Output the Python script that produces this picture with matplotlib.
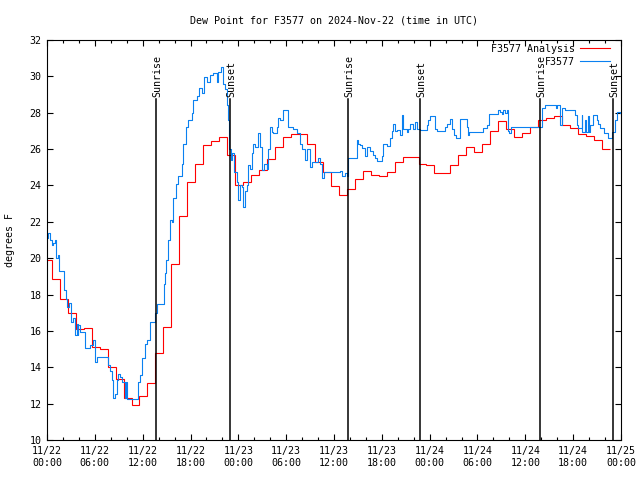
import numpy as np
import matplotlib
matplotlib.use("Agg")
import matplotlib.pyplot as plt
from matplotlib.ticker import MultipleLocator

# hourly analysis values (steps start at -0.4 h, one hour each)
analysis_start = -0.4
analysis_vals = [
    19.9, 18.85, 17.75, 17.0, 16.1, 16.15, 15.1, 15.0, 14.0, 13.35,
    12.3, 11.95, 12.4, 13.15, 14.8, 16.2, 19.7, 22.3, 24.2, 25.2,
    26.2, 26.45, 26.65, 25.7, 24.0, 24.2, 24.55, 24.85, 25.45, 26.13,
    26.65, 26.83, 26.83, 26.3, 25.3, 24.75, 23.97, 23.47, 23.8, 24.35,
    24.8, 24.6, 24.5, 24.75, 25.27, 25.55, 25.55, 25.2, 25.1, 24.7,
    24.7, 25.15, 25.65, 26.1, 25.85, 26.27, 27.0, 27.55, 27.1, 26.65,
    26.9, 27.2, 27.6, 27.7, 27.8, 27.35, 27.17, 26.83, 26.7, 26.5,
    26.0,
]

# station observations (hours since 11/22 00:00 UTC)
obs_hours = [
    0.00, 0.16, 0.38, 0.59, 0.79, 1.00, 1.13, 1.34, 1.54, 2.13,
    2.35, 2.55, 2.76, 2.97, 3.30, 3.51, 3.73, 3.83, 3.93, 4.14,
    4.77, 5.39, 5.81, 6.02, 6.23, 7.69, 7.90, 8.12, 8.32, 8.53,
    8.74, 8.94, 9.16, 9.45, 9.78, 9.88, 10.00, 11.45, 11.67, 11.95,
    12.29, 12.51, 12.92, 13.55, 13.76, 14.68, 14.80, 14.93, 15.22, 15.43,
    15.68, 15.84, 16.18, 16.47, 16.90, 17.10, 17.44, 17.72, 18.15, 18.35,
    18.78, 19.10, 19.41, 19.69, 20.03, 20.45, 20.86, 21.29, 21.49, 21.79,
    22.04, 22.33, 22.62, 22.70, 22.83, 23.08, 23.24, 23.50, 23.80, 24.00,
    24.21, 24.42, 24.62, 24.84, 25.05, 25.25, 25.46, 25.68, 25.88, 26.09,
    26.51, 26.72, 26.93, 27.26, 27.56, 27.76, 27.97, 28.18, 28.39, 28.81,
    29.01, 29.23, 29.64, 30.27, 30.90, 31.32, 31.74, 32.02, 32.36, 32.58,
    32.99, 33.28, 34.03, 34.25, 34.50, 34.75, 36.75, 36.97, 37.38, 37.59,
    37.80, 38.93, 39.05, 39.26, 39.48, 39.89, 40.10, 40.52, 40.93, 41.14,
    41.36, 41.98, 42.19, 42.61, 43.03, 43.24, 43.44, 43.65, 43.87, 44.28,
    44.49, 44.69, 45.12, 45.32, 45.54, 45.95, 46.16, 46.38, 46.79, 47.63,
    47.83, 48.04, 48.67, 48.88, 49.93, 50.14, 50.55, 50.77, 51.05, 51.31,
    51.81, 52.65, 52.81, 52.97, 54.73, 55.23, 55.48, 56.61, 56.82, 57.04,
    57.24, 57.45, 57.67, 57.79, 57.99, 58.17, 62.06, 62.47, 63.85, 64.01,
    64.35, 64.56, 64.98, 66.23, 66.45, 66.65, 67.07, 67.17, 67.49, 67.61,
    67.86, 67.99, 68.11, 68.53, 68.95, 69.16, 69.37, 69.87, 70.41, 70.84,
    71.25, 71.54, 71.88,
]
obs_vals = [
    21.1, 21.37, 21.0, 20.7, 20.85, 21.0, 20.0, 20.2, 19.27, 18.25,
    17.75, 17.3, 17.55, 16.47, 16.7, 15.77, 16.4, 15.8, 16.33, 15.96,
    15.05, 15.25, 15.5, 14.27, 14.55, 14.13, 13.8, 13.3, 12.3, 12.55,
    13.3, 13.65, 13.48, 13.2, 12.3, 13.2, 12.25, 13.2, 13.6, 14.5,
    15.3, 15.5, 16.5, 16.97, 17.5, 18.6, 19.2, 19.9, 21.0, 22.1,
    22.0, 23.3, 24.1, 24.5, 25.2, 26.3, 27.23, 27.6, 27.97, 28.7,
    28.9, 29.35, 29.1, 29.98, 29.7, 30.08, 30.17, 29.7, 30.26, 30.53,
    29.6, 29.3, 28.4, 27.6, 26.0, 25.4, 25.8, 24.76, 24.2, 23.2,
    24.0, 23.9, 22.8, 23.7, 24.0, 25.1, 24.9, 25.77, 26.3, 26.1,
    26.87, 26.1, 24.85, 25.2, 24.9, 26.0, 27.23, 26.95, 26.87, 27.23,
    27.7, 27.6, 28.15, 27.23, 27.1, 26.87, 26.3, 26.0, 25.4, 26.0,
    25.04, 25.3, 25.5, 25.2, 24.4, 24.75, 24.8, 24.5, 24.7, 24.5,
    25.5, 26.5, 26.3, 26.2, 26.04, 25.64, 26.1, 25.9, 25.7, 25.5,
    25.35, 25.6, 26.27, 26.15, 26.6, 27.0, 27.36, 27.0, 27.05, 26.8,
    27.87, 27.1, 26.95, 27.1, 27.4, 27.1, 27.5, 27.1, 27.07, 27.3,
    27.6, 27.84, 27.1, 27.0, 27.2, 27.4, 27.65, 27.1, 26.8, 26.63,
    27.65, 27.2, 26.8, 26.92, 27.14, 27.33, 27.93, 28.15, 28.05, 27.93,
    28.15, 27.98, 28.15, 27.0, 26.9, 27.2, 28.24, 28.42, 28.24, 28.42,
    27.33, 28.24, 28.17, 27.9, 27.33, 27.14, 27.9, 26.96, 27.6, 26.96,
    27.8, 26.96, 27.33, 27.87, 27.6, 27.4, 27.14, 26.87, 26.6, 26.92,
    27.6, 28.06, 28.0,
]

sun_hours = [13.67, 22.96, 37.76, 46.79, 61.84, 71.0]
sun_labels = ["Sunrise", "Sunset", "Sunrise", "Sunset", "Sunrise", "Sunset"]

tick_hours = list(range(0, 73, 6))
tick_labels = [
    "11/22\n00:00", "11/22\n06:00", "11/22\n12:00", "11/22\n18:00",
    "11/23\n00:00", "11/23\n06:00", "11/23\n12:00", "11/23\n18:00",
    "11/24\n00:00", "11/24\n06:00", "11/24\n12:00", "11/24\n18:00",
    "11/25\n00:00",
]

FS = 7.2
plt.rcParams['font.family'] = ['DejaVu Sans Mono']
plt.rcParams['font.size'] = FS

fig = plt.figure(figsize=(6.4, 4.8), dpi=100)
ax = fig.add_axes([47 / 640, 40 / 480, 574 / 640, 400 / 480])

edges = analysis_start + np.arange(len(analysis_vals) + 1)
ax.stairs(analysis_vals, edges, baseline=None, color='#ff0000', lw=0.8,
          label='F3577 Analysis')
ax.step(obs_hours, obs_vals, where='post', color='#0a80f0', lw=0.8,
        label='F3577')

for h, name in zip(sun_hours, sun_labels):
    ax.plot([h, h], [10, 28.75], color='black', lw=1.1)
    ax.text(h + 0.15, 28.86, name, rotation=90, ha='center', va='bottom',
            fontsize=FS)

ax.set_xlim(0, 72)
ax.set_ylim(10, 32)
ax.set_xticks(tick_hours)
ax.set_xticklabels(tick_labels, linespacing=1.35)
ax.xaxis.set_minor_locator(MultipleLocator(2))
ax.set_yticks(range(10, 33, 2))
ax.tick_params(which='both', direction='in', top=True, right=True,
               width=0.8, labelsize=FS)
ax.tick_params(which='major', length=4.5, pad=4)
ax.tick_params(which='minor', length=2.5)
for s in ax.spines.values():
    s.set_linewidth(0.8)

ax.set_title('Dew Point for F3577 on 2024-Nov-22 (time in UTC)',
             fontsize=FS, pad=12)
fig.text(10 / 640, 0.5, 'degrees F', rotation=90, ha='center', va='center',
         fontsize=FS)

ax.legend(loc='upper right', bbox_to_anchor=(0.981, 0.99), frameon=False,
          markerfirst=False, handlelength=3.0, handletextpad=0.5,
          labelspacing=0.3, borderpad=0, borderaxespad=0, fontsize=FS)

fig.savefig('out.png', dpi=100)
